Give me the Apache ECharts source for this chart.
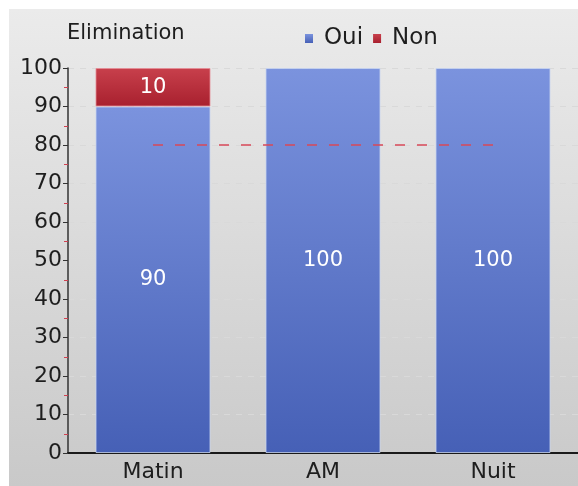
<!DOCTYPE html>
<html><head><meta charset="utf-8">
<script src="https://cdn.jsdelivr.net/npm/echarts@6/dist/echarts.min.js"></script>
<style>html,body{margin:0;padding:0;background:#fff}#c{width:578px;height:486px}</style>
</head><body><div id="c"></div>
<script>
const categories = ['Matin', 'AM', 'Nuit'];
const ouiValues = [90, 100, 100];
const nonValues = [10, null, null];
const targetValues = [80, 80, 80];
const yTicks = [0, 10, 20, 30, 40, 50, 60, 70, 80, 90, 100];

const FONT = 'DejaVu Sans';
const chart = echarts.init(document.getElementById('c'));
chart.setOption({
  animation: false,
  backgroundColor: '#ffffff',
  graphic: [{
    type: 'rect', silent: true, z: -10,
    shape: { x: 9, y: 9, width: 569, height: 477 },
    style: { fill: new echarts.graphic.LinearGradient(0, 0, 0, 1, [
      { offset: 0, color: '#ebebeb' }, { offset: 1, color: '#c9c9c9' }]) }
  }],
  title: {
    text: 'Elimination', left: 62, top: 18,
    textStyle: { fontFamily: FONT, fontSize: 21, fontWeight: 'normal', color: '#1e1e1e' }
  },
  legend: {
    data: ['Oui', 'Non'], left: 300, top: 22, itemWidth: 8, itemHeight: 9, itemGap: 10,
    icon: 'rect', itemStyle: { borderWidth: 0 },
    textStyle: { fontFamily: FONT, fontSize: 23, color: '#1e1e1e', padding: [0, 0, 0, 6] }
  },
  grid: { left: 68, top: 68, bottom: 33, width: 514, containLabel: false },
  xAxis: {
    type: 'category', data: categories,
    axisLine: { lineStyle: { color: '#1a1a1a', width: 2 } },
    axisTick: { alignWithLabel: true, length: 4, lineStyle: { color: '#444' } },
    axisLabel: { fontFamily: FONT, fontSize: 22, color: '#1e1e1e', margin: 8 }
  },
  yAxis: {
    type: 'value', min: 0, max: 100, interval: 10,
    axisLine: { show: true, lineStyle: { color: '#333', width: 1.5 } },
    axisTick: { show: true, length: 5, lineStyle: { color: '#333' } },
    minorTick: { show: true, splitNumber: 2, length: 4, lineStyle: { color: '#d04050' } },
    axisLabel: { fontFamily: FONT, fontSize: 22, color: '#1e1e1e', margin: 6,
      formatter: v => yTicks.includes(v) ? String(v) : '' },
    splitLine: { show: true, lineStyle: { color: '#d9d9d9', type: [6, 6], width: 1 } }
  },
  series: [{
    name: 'Oui', type: 'bar', stack: 's', data: ouiValues, barWidth: 115,
    itemStyle: {
      color: new echarts.graphic.LinearGradient(0, 0, 0, 1, [
        { offset: 0, color: '#7b93de' }, { offset: 1, color: '#4660b6' }]),
      borderColor: 'rgba(200,212,240,0.8)', borderWidth: 1
    },
    label: { show: true, position: 'inside', color: '#ffffff', fontFamily: FONT, fontSize: 21 }
  }, {
    name: 'Non', type: 'bar', stack: 's', data: nonValues, barWidth: 115,
    itemStyle: {
      color: new echarts.graphic.LinearGradient(0, 0, 0, 1, [
        { offset: 0, color: '#c8404c' }, { offset: 1, color: '#a8202e' }]),
      borderColor: 'rgba(230,140,150,0.8)', borderWidth: 1
    },
    label: { show: true, position: 'inside', color: '#ffffff', fontFamily: FONT, fontSize: 21 }
  }, {
    name: 'Cible', type: 'line', data: targetValues, z: 10,
    symbol: 'none', silent: true,
    lineStyle: { color: '#d84858', type: [10, 12], width: 1.4 }
  }],
  color: ['#4a6ae6', '#cc1424', '#d84858']
});
</script></body></html>
